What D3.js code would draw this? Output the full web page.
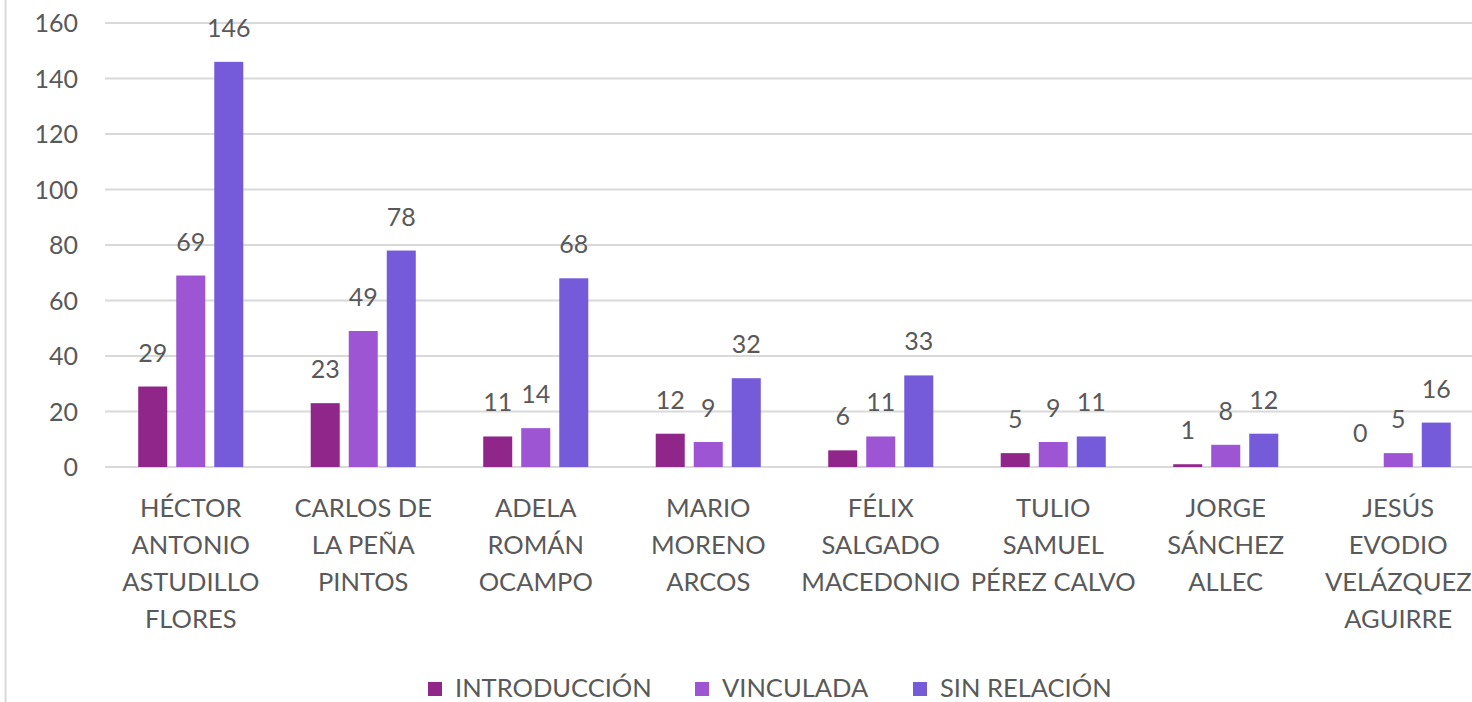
<!DOCTYPE html>
<html><head><meta charset="utf-8">
<script src="https://cdn.jsdelivr.net/npm/d3@7"></script>
<style>body{margin:0;background:#fff}svg{display:block}</style>
</head><body><svg id="c" width="1472" height="702"></svg>
<script>
const categories = [
  ["HÉCTOR","ANTONIO","ASTUDILLO","FLORES"],
  ["CARLOS DE","LA PEÑA","PINTOS"],
  ["ADELA","ROMÁN","OCAMPO"],
  ["MARIO","MORENO","ARCOS"],
  ["FÉLIX","SALGADO","MACEDONIO"],
  ["TULIO","SAMUEL","PÉREZ CALVO"],
  ["JORGE","SÁNCHEZ","ALLEC"],
  ["JESÚS","EVODIO","VELÁZQUEZ","AGUIRRE"]
];
const seriesNames = ["INTRODUCCIÓN","VINCULADA","SIN RELACIÓN"];
const introduccion = [29,23,11,12,6,5,1,0];
const vinculada = [69,49,14,9,11,9,8,5];
const sinRelacion = [146,78,68,32,33,11,12,16];
const yTicks = [0,20,40,60,80,100,120,140,160];
const colors = ["#91268A","#9D55D4","#755BDA"];

const series = [introduccion, vinculada, sinRelacion];
const catKeys = categories.map(c => c.join(" "));
const svg = d3.select("#c");
const font = "Lato, 'Open Sans', sans-serif";
const textCol = "#595959";

svg.append("line").attr("x1",5.5).attr("x2",5.5).attr("y1",0).attr("y2",702)
  .attr("stroke","#d9d9d9").attr("stroke-width",2);

const y = d3.scaleLinear().domain([0,160]).range([467,23]);
const x0 = d3.scaleBand().domain(catKeys).range([104.5,1484.5]).paddingInner(0.391).paddingOuter(0.1955);
const x1 = d3.scaleBand().domain(seriesNames).range([0,x0.bandwidth()]).paddingInner(0.237).paddingOuter(0);

// grid
const g = svg.append("g");
g.selectAll("line.grid").data(yTicks).join("line")
  .attr("x1",105).attr("x2",1472)
  .attr("y1",d=>y(d)).attr("y2",d=>y(d))
  .attr("stroke","#d9d9d9").attr("stroke-width",2);

// y axis labels
const yAxis = d3.axisLeft(y).tickValues(yTicks).tickSize(0).tickPadding(0);
const ya = svg.append("g").attr("transform","translate(78,0)").call(yAxis);
ya.select(".domain").remove();
ya.selectAll("text").attr("font-family",font).attr("font-size",25).attr("fill",textCol).attr("dy","0.35em");

// bars
const groups = svg.selectAll("g.grp").data(catKeys).join("g")
  .attr("transform",d=>`translate(${x0(d)},0)`);
groups.each(function(cat, ci){
  const gg = d3.select(this);
  const vals = seriesNames.map((s,si)=>({s, si, v: series[si][ci]}));
  gg.selectAll("rect").data(vals).join("rect")
    .attr("x",d=>x1(d.s)).attr("width",x1.bandwidth())
    .attr("y",d=>y(d.v)).attr("height",d=>y(0)-y(d.v))
    .attr("fill",d=>colors[d.si]);
  gg.selectAll("text").data(vals).join("text")
    .attr("x",d=>x1(d.s)+x1.bandwidth()/2).attr("y",d=>y(d.v)-25)
    .attr("text-anchor","middle").attr("font-family",font).attr("font-size",25)
    .attr("fill",textCol).text(d=>d.v);
});

// category labels
const xa = svg.append("g");
categories.forEach((lines,ci)=>{
  const cx = x0(catKeys[ci]) + x0.bandwidth()/2;
  const t = xa.append("text").attr("text-anchor","middle").attr("font-family",font)
    .attr("font-size",25.5).attr("fill",textCol);
  lines.forEach((ln,li)=>{
    t.append("tspan").attr("x",cx).attr("y",517 + li*37).text(ln);
  });
});

// legend
const legendX = [428, 695, 913];
const lg = svg.append("g");
seriesNames.forEach((s,i)=>{
  lg.append("rect").attr("x",legendX[i]).attr("y",682).attr("width",14).attr("height",14).attr("fill",colors[i]);
  lg.append("text").attr("x",legendX[i]+27).attr("y",697).attr("font-family",font)
    .attr("font-size",25.5).attr("fill",textCol).text(s);
});
</script></body></html>
